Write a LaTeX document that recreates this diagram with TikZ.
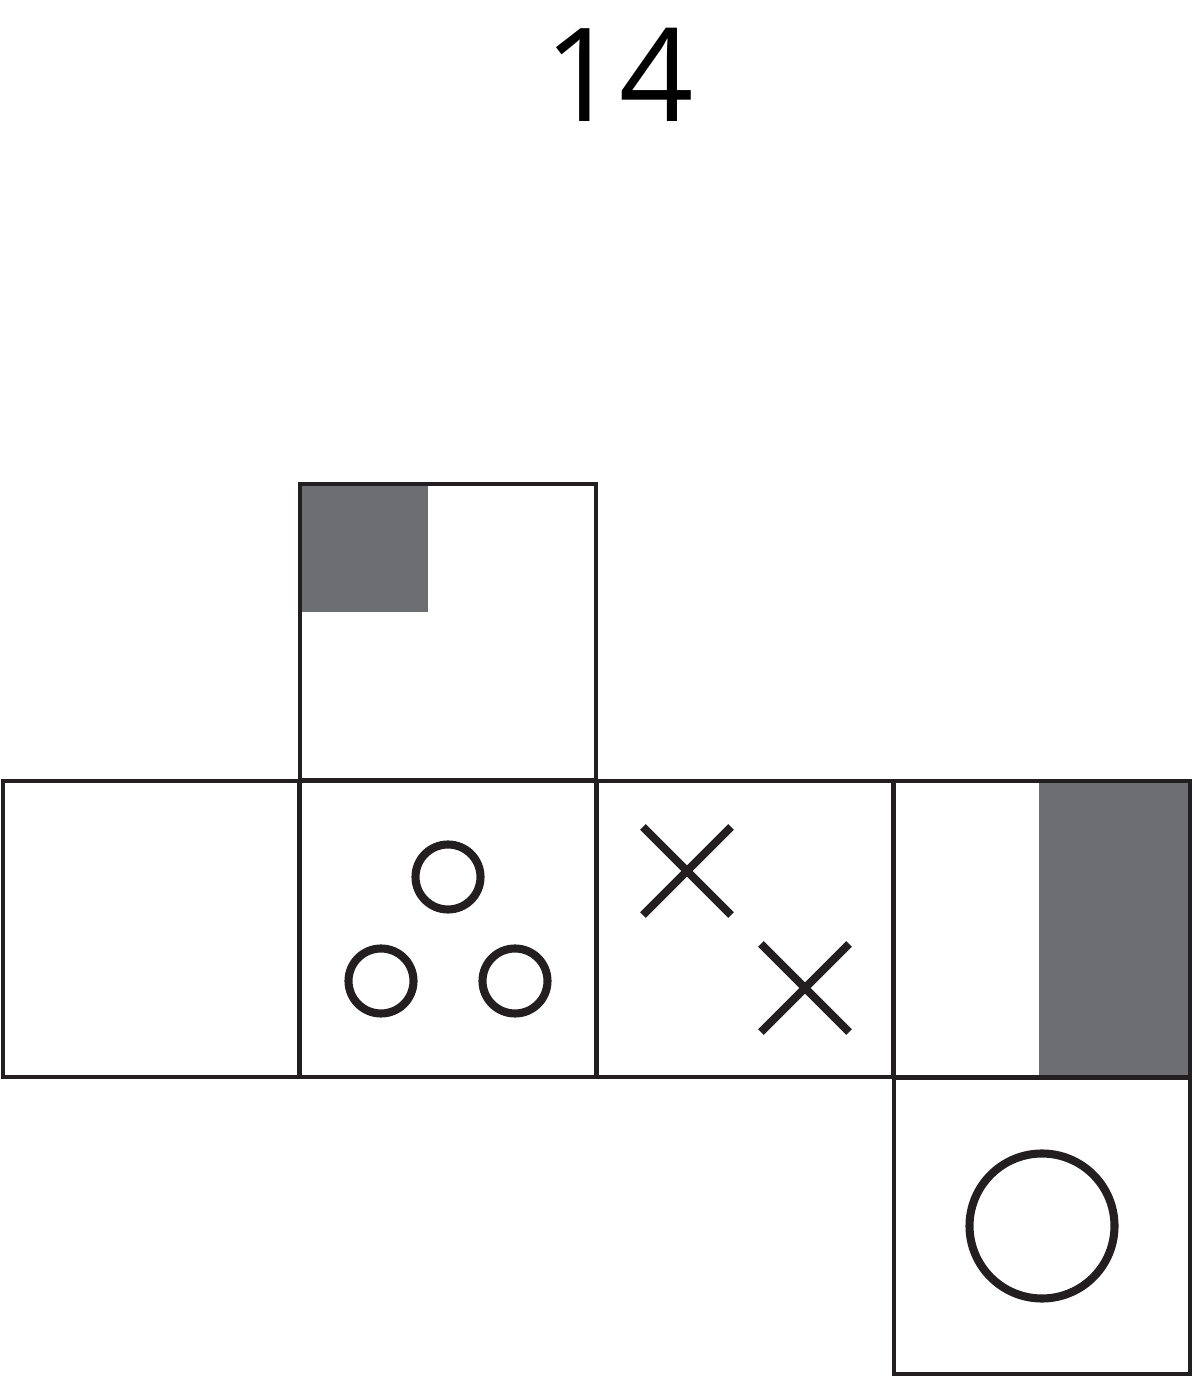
\documentclass[tikz,border=0pt]{standalone}
\usepackage{fontspec}
\setmainfont{Open Sans}
\usetikzlibrary{positioning, backgrounds, shapes.misc}
\definecolor{ink}{RGB}{35,31,32}
\definecolor{greyface}{RGB}{109,110,113}

\begin{document}
\begin{tikzpicture}[node distance =2.97cm and 2.97cm ,
      on grid , inner sep=0pt,
      face/.style={draw=ink, line width=0.9pt, minimum size=2.96cm},
      dot/.style={circle, draw=ink, line width=2.3pt, minimum size=0.65cm},
      mark x/.style={cross out, draw=ink, line width=2.3pt, minimum size=0.80cm}]
      \useasboundingbox (0,0) rectangle (11.94,13.77);
      % number
      \node (title) at (6.19,13.02) {\fontsize{37}{40}\selectfont 14};
      % middle row
      \node[face] (left) at (1.51,4.48) {};
      \node[face, right=of left] (rings) {};
      \node[face, right=of rings] (marks) {};
      \node[face, right=of marks] (bar) {};
      % top and bottom faces
      \node[face, above=of rings] (top) {};
      \node[face, below=of bar] (ring) {};
      % grey parts
      \begin{scope}[on background layer]
        \fill[greyface] (top.north west) rectangle ([shift={(1.30,-1.30)}]top.north west);
        \fill[greyface] (bar.north east) rectangle ([xshift=-1.53cm]bar.south east);
      \end{scope}
      % three small circles
      \node[dot, above=0.52cm of rings] (c1) {};
      \node[dot, below left=0.52cm and 0.67cm of rings] (c2) {};
      \node[dot, below right=0.52cm and 0.67cm of rings] (c3) {};
      % two crosses
      \node[mark x, above left=0.58cm and 0.58cm of marks] (x1) {};
      \node[mark x, below right=0.59cm and 0.6cm of marks] (x2) {};
      % big circle
      \node[dot, minimum size=1.45cm] (c4) at (ring) {};
\end{tikzpicture}
\end{document}
